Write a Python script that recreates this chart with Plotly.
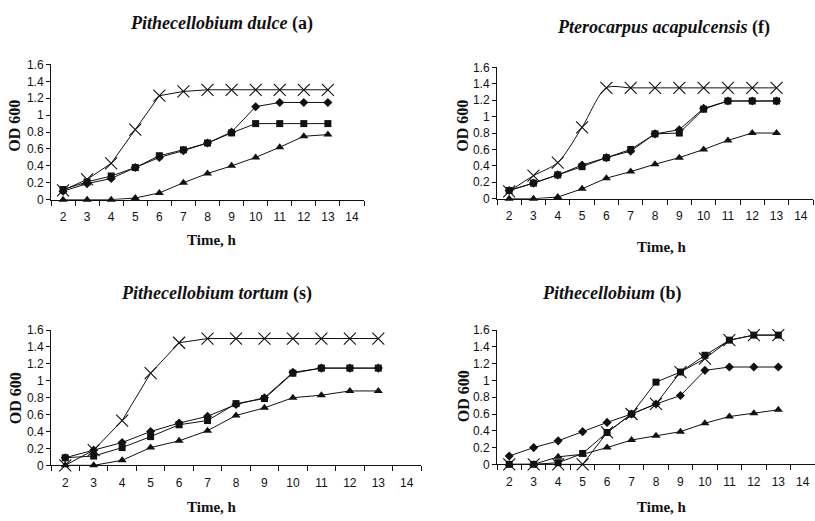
import plotly.graph_objects as go

# ---------------- data ----------------
hours = ["2", "3", "4", "5", "6", "7", "8", "9", "10", "11", "12", "13"]
hour_categories = ["2", "3", "4", "5", "6", "7", "8", "9", "10", "11", "12", "13", "14"]
y_tick_vals = [0, 0.2, 0.4, 0.6, 0.8, 1.0, 1.2, 1.4, 1.6]
y_tick_text = ["0", "0.2", "0.4", "0.6", "0.8", "1", "1.2", "1.4", "1.6"]

panel_titles = [
    "<i>Pithecellobium dulce</i> (a)",
    "<i>Pterocarpus acapulcensis</i> (f)",
    "<i>Pithecellobium tortum</i> (s)",
    "<i>Pithecellobium</i> (b)",
]

# Panel a: Pithecellobium dulce
a_diamond = [0.10, 0.19, 0.25, 0.38, 0.50, 0.58, 0.67, 0.80, 1.10, 1.15, 1.15, 1.15]
a_square = [0.12, 0.21, 0.28, 0.38, 0.52, 0.59, 0.67, 0.79, 0.90, 0.90, 0.90, 0.90]
a_triangle = [0.00, 0.00, 0.00, 0.02, 0.08, 0.20, 0.31, 0.40, 0.50, 0.62, 0.75, 0.77]
a_cross = [0.11, 0.24, 0.43, 0.83, 1.23, 1.28, 1.30, 1.30, 1.30, 1.30, 1.30, 1.30]

# Panel f: Pterocarpus acapulcensis
f_diamond = [0.10, 0.19, 0.29, 0.41, 0.50, 0.58, 0.79, 0.84, 1.10, 1.19, 1.19, 1.19]
f_square = [0.10, 0.19, 0.29, 0.39, 0.50, 0.60, 0.79, 0.80, 1.09, 1.19, 1.19, 1.19]
f_triangle = [0.00, 0.00, 0.02, 0.12, 0.25, 0.33, 0.42, 0.50, 0.60, 0.71, 0.80, 0.80]
f_cross = [0.09, 0.28, 0.44, 0.87, 1.35, 1.35, 1.35, 1.35, 1.35, 1.35, 1.35, 1.35]

# Panel s: Pithecellobium tortum
s_diamond = [0.09, 0.18, 0.27, 0.40, 0.50, 0.58, 0.72, 0.80, 1.10, 1.15, 1.15, 1.15]
s_square = [0.09, 0.11, 0.21, 0.34, 0.48, 0.53, 0.73, 0.79, 1.09, 1.15, 1.15, 1.15]
s_triangle = [0.00, 0.00, 0.06, 0.21, 0.29, 0.41, 0.59, 0.68, 0.80, 0.83, 0.88, 0.88]
s_cross = [0.00, 0.18, 0.53, 1.09, 1.45, 1.50, 1.50, 1.50, 1.50, 1.50, 1.50, 1.50]

# Panel b: Pithecellobium
b_diamond = [0.10, 0.20, 0.28, 0.39, 0.50, 0.60, 0.72, 0.82, 1.12, 1.16, 1.16, 1.16]
b_square = [0.00, 0.00, 0.02, 0.13, 0.38, 0.60, 0.98, 1.10, 1.30, 1.48, 1.54, 1.54]
b_triangle = [0.00, 0.00, 0.09, 0.12, 0.20, 0.29, 0.34, 0.39, 0.49, 0.57, 0.61, 0.65]
b_cross = [0.00, 0.00, 0.00, 0.00, 0.38, 0.60, 0.72, 1.10, 1.26, 1.48, 1.54, 1.54]

panels = [
    (a_diamond, a_square, a_triangle, a_cross, "linear"),
    (f_diamond, f_square, f_triangle, f_cross, "spline"),
    (s_diamond, s_square, s_triangle, s_cross, "linear"),
    (b_diamond, b_square, b_triangle, b_cross, "linear"),
]

# ---------------- layout geometry (pixels) ----------------
W, H = 815, 521
# (x_left, x_right, y_top, y_bottom) of each plot area in pixels
boxes = [
    (51, 364, 59, 198),
    (497, 813, 62, 197),
    (51, 421, 332, 471),
    (497, 815, 332, 470),
]
title_pos = [(222, 17), (663, 21), (216, 294), (612, 294)]
ytitle_pos = [(15, 122), (463, 122), (15, 402), (463, 400)]
xtitle_pos = [(212, 239), (662, 247), (212, 514), (662, 514)]

fig = go.Figure()
serif = "Liberation Serif, Times New Roman, serif"
sans = "Liberation Sans, Arial, sans-serif"
black = "#111111"

for i, (dia, sq, tri, cr, crshape) in enumerate(panels):
    n = "" if i == 0 else str(i + 1)
    xa, ya = "x" + n, "y" + n
    common = dict(x=hours, xaxis=xa, yaxis=ya, mode="lines+markers",
                  showlegend=False, cliponaxis=False)
    fig.add_trace(go.Scatter(y=tri, line=dict(color=black, width=1),
                             marker=dict(symbol="triangle-up", size=8, color=black), **common))
    fig.add_trace(go.Scatter(y=dia, line=dict(color=black, width=1),
                             marker=dict(symbol="diamond", size=7, color=black), **common))
    fig.add_trace(go.Scatter(y=sq, line=dict(color=black, width=1),
                             marker=dict(symbol="square", size=7, color=black), **common))
    fig.add_trace(go.Scatter(y=cr, line=dict(color=black, width=1, shape=crshape, smoothing=0.8),
                             marker=dict(symbol="x-thin-open", size=12,
                                         line=dict(color=black, width=1.1)), **common))

    xl, xr, yt, yb = boxes[i]
    fig.layout["xaxis" + n] = dict(
        domain=[xl / W, min(xr / W, 1.0)], anchor=ya,
        type="category", categoryorder="array", categoryarray=hour_categories,
        range=[-0.5, 12.5], tickson="boundaries", ticks="outside", ticklen=5,
        tickcolor=black, showline=True, linecolor=black, linewidth=1,
        showgrid=False, zeroline=False, ticklabelstandoff=6,
        tickfont=dict(family=sans, size=12, color=black),
    )
    fig.layout["yaxis" + n] = dict(
        domain=[(H - yb) / H, (H - yt) / H], anchor=xa,
        range=[0, 1.6], tickmode="array", tickvals=y_tick_vals, ticktext=y_tick_text,
        ticks="outside", ticklen=4, tickcolor=black, showline=True,
        linecolor=black, linewidth=1, showgrid=False, zeroline=False,
        tickfont=dict(family=sans, size=12, color=black),
    )

annotations = []
for i in range(4):
    tx, ty = title_pos[i]
    annotations.append(dict(text="<b>" + panel_titles[i] + "</b>", x=tx / W, y=1 - ty / H,
                            xref="paper", yref="paper", showarrow=False,
                            xanchor="center", yanchor="middle",
                            font=dict(family=serif, size=18, color=black)))
    yx, yy = ytitle_pos[i]
    annotations.append(dict(text="<b>OD 600</b>", x=yx / W, y=1 - yy / H,
                            xref="paper", yref="paper", showarrow=False, textangle=-90,
                            xanchor="center", yanchor="middle",
                            font=dict(family=serif, size=16, color=black)))
    xx, xy = xtitle_pos[i]
    annotations.append(dict(text="<b>Time, h</b>", x=xx / W, y=1 - xy / H,
                            xref="paper", yref="paper", showarrow=False,
                            xanchor="center", yanchor="middle",
                            font=dict(family=serif, size=15, color=black)))

fig.update_layout(
    width=W, height=H, margin=dict(l=0, r=0, t=0, b=0),
    paper_bgcolor="white", plot_bgcolor="white",
    annotations=annotations,
)

fig.write_html("out.html", config={"displayModeBar": False},
               post_script="document.body.style.margin='0';document.body.style.overflow='hidden';")
